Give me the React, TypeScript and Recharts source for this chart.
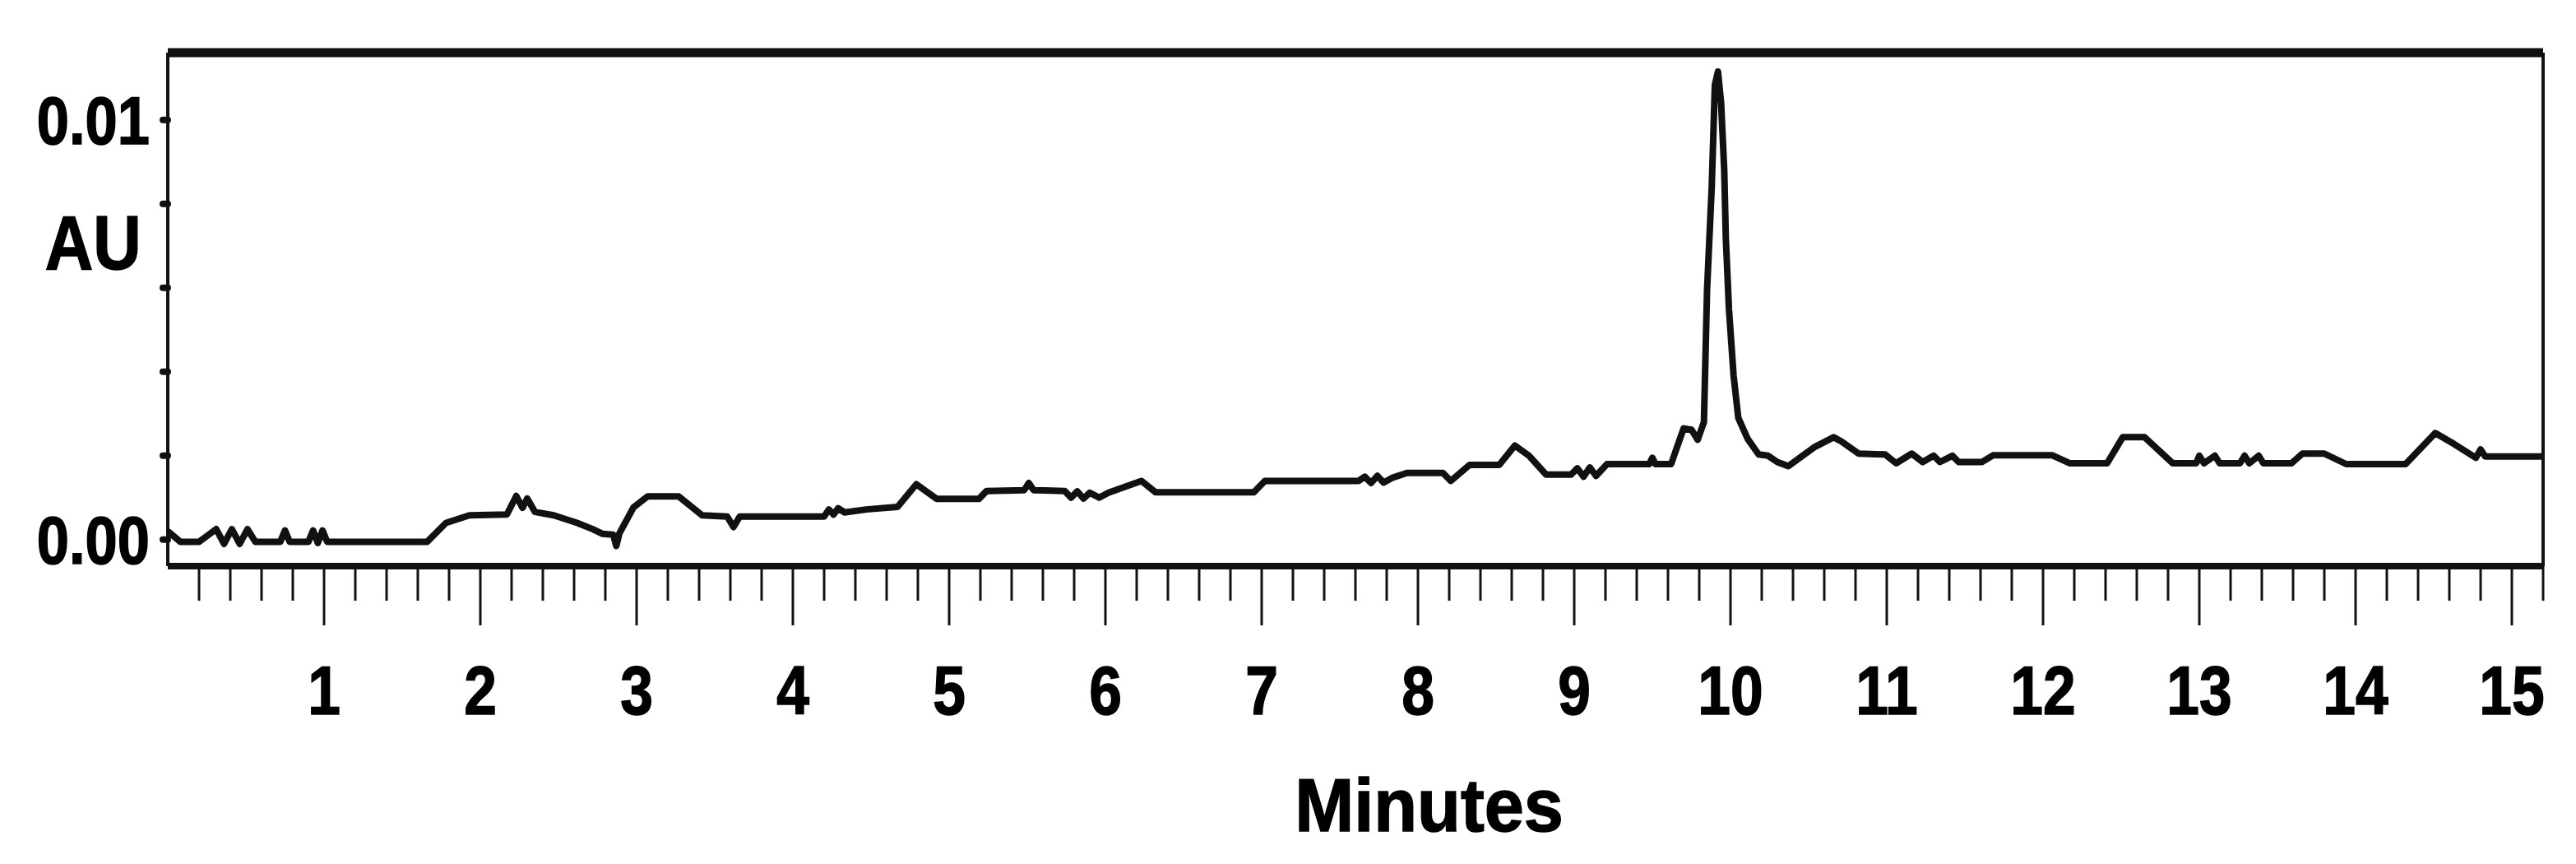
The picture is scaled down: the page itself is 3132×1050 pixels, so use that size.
import { LineChart, Line, XAxis, YAxis, ReferenceLine } from 'recharts'

// retention time (minutes) and detector response (AU)
const TIME_MIN = [
    0.0, 0.08, 0.2, 0.31, 0.36, 0.41, 0.46, 0.51, 0.56, 0.72, 0.75, 0.78, 0.9, 0.93, 0.96, 0.99, 1.02,
    1.66, 1.78, 1.93, 2.17, 2.23, 2.27, 2.3, 2.35, 2.47, 2.62, 2.72, 2.78, 2.85, 2.87, 2.89, 2.98, 3.07,
    3.27, 3.42, 3.58, 3.62, 3.66, 4.2, 4.23, 4.26, 4.29, 4.33, 4.47, 4.67, 4.79, 4.92, 5.19, 5.24, 5.48,
    5.51, 5.54, 5.74, 5.78, 5.82, 5.86, 5.9, 5.96, 6.02, 6.23, 6.32, 6.95, 7.02, 7.62, 7.66, 7.7, 7.74,
    7.78, 7.84, 7.93, 8.16, 8.21, 8.33, 8.52, 8.62, 8.71, 8.82, 8.98, 9.02, 9.06, 9.1, 9.14, 9.21, 9.48,
    9.5, 9.52, 9.62, 9.7, 9.75, 9.79, 9.83, 9.85, 9.88, 9.9, 9.92, 9.94, 9.96, 9.97, 9.99, 10.02, 10.05,
    10.11, 10.18, 10.24, 10.3, 10.37, 10.54, 10.66, 10.71, 10.82, 10.99, 11.06, 11.16, 11.23, 11.3, 11.34,
    11.42, 11.46, 11.61, 11.68, 12.06, 12.17, 12.41, 12.51, 12.65, 12.83, 12.98, 13.0, 13.03, 13.1, 13.13,
    13.26, 13.29, 13.32, 13.38, 13.41, 13.59, 13.66, 13.8, 13.94, 14.32, 14.51, 14.63, 14.77, 14.8, 14.83,
    15.2,
]

const ABSORBANCE_AU = [
    0.0002, -0.00005, -0.00005, 0.00025, -0.0001, 0.00025, -0.0001, 0.00025, -0.00005, -0.00005, 0.00022,
    -0.00005, -0.00005, 0.00022, -0.00008, 0.00022, -0.00005,
    -0.00005, 0.0004, 0.00058, 0.0006, 0.00104, 0.00076, 0.00098, 0.00066, 0.00058, 0.0004, 0.00025,
    0.00014, 0.00012, -0.00015, 0.00015, 0.00077, 0.00103,
    0.00103, 0.00058, 0.00055, 0.0003, 0.00055, 0.00055, 0.00072, 0.0006, 0.00075, 0.00065, 0.00072,
    0.00078, 0.00132, 0.00097, 0.00097, 0.00116, 0.00118,
    0.00135, 0.00118, 0.00116, 0.001, 0.00115, 0.00098, 0.00112, 0.001, 0.00112, 0.0014, 0.00113, 0.00113,
    0.0014, 0.0014, 0.0015, 0.00135, 0.00152,
    0.00136, 0.00148, 0.00159, 0.00159, 0.0014, 0.00178, 0.00178, 0.00224, 0.002, 0.00155, 0.00155, 0.0017,
    0.0015, 0.00172, 0.00152, 0.0018, 0.0018,
    0.00195, 0.0018, 0.0018, 0.00265, 0.00262, 0.00238, 0.0028, 0.00595, 0.0084, 0.01083, 0.01115, 0.0104,
    0.0088, 0.0072, 0.0055, 0.0039, 0.0029,
    0.0024, 0.00203, 0.002, 0.00185, 0.00175, 0.00221, 0.00244, 0.00234, 0.00205, 0.00203, 0.00182,
    0.00205, 0.00185, 0.002, 0.00185,
    0.002, 0.00185, 0.00185, 0.00201, 0.00201, 0.00182, 0.00182, 0.00244, 0.00244, 0.00182, 0.00182, 0.002,
    0.00182, 0.002, 0.00182,
    0.00182, 0.002, 0.00182, 0.002, 0.00182, 0.00182, 0.00205, 0.00205, 0.0018, 0.0018, 0.00254, 0.00228,
    0.00195, 0.00215, 0.00198,
    0.00198,
]

// axis ticks
const X_MAJOR_TICKS = [1, 2, 3, 4, 5, 6, 7, 8, 9, 10, 11, 12, 13, 14, 15]
const X_END = 15.2
const Y_DOMAIN = [-0.00063, 0.0116]
const Y_TICKS = [0, 0.002, 0.004, 0.006, 0.008, 0.01]
const Y_TICK_LABELS: Record<string, string> = { '0': '0.00', '0.01': '0.01' }

// minor ticks every 0.2 min
const X_ALL_TICKS = Array.from({ length: 76 }, (_, i) => Math.round((i + 1) * 2) / 10)

const data = TIME_MIN.map((t, i) => ({ t, au: ABSORBANCE_AU[i] }))

const FONT = '"Liberation Sans", Arial, sans-serif'
const INK = '#111'

// the original lettering is a condensed bold sans
function Condensed({ x, y, size, anchor = 'middle', sx = 0.86, children }: any) {
    return (
        <text transform={`translate(${x},${y}) scale(${sx},1)`} textAnchor={anchor}
            fontFamily={FONT} fontWeight="bold" fontSize={size} fill="#000"
            stroke="#000" strokeWidth={1.5}>
            {children}
        </text>
    )
}

function MinuteTick(props: any) {
    const { x, y, payload } = props
    const v = payload.value
    const major = Math.abs(v - Math.round(v)) < 1e-6 && X_MAJOR_TICKS.includes(Math.round(v))
    return (
        <g>
            <line x1={x} x2={x} y1={y} y2={y + (major ? 72 : 42)} stroke={INK} strokeWidth={3} />
            {major && <Condensed x={x} y={y + 180} size={84} sx={0.85}>{v}</Condensed>}
        </g>
    )
}

function AuTick(props: any) {
    const { x, y, payload } = props
    const label = Y_TICK_LABELS[String(payload.value)]
    if (!label) return null
    return <Condensed x={x} y={y + 29} size={81} anchor="end" sx={0.87}>{label}</Condensed>
}

export default function App() {
    return (
        <div style={{ position: 'absolute', left: 0, top: 0, background: '#fff' }}>
            <LineChart width={3132} height={1050} data={data}
                margin={{ top: 64, right: 40, bottom: 162, left: 0 }}>
                <XAxis xAxisId="main" dataKey="t" type="number" domain={[0, X_END]} allowDataOverflow
                    ticks={X_ALL_TICKS} interval={0} tickSize={0} tickMargin={0} tickLine={false}
                    height={200} axisLine={{ stroke: INK, strokeWidth: 8 }} tick={<MinuteTick />}
                    label={{
                        content: (p: any) => {
                            const vb = p.viewBox
                            return (
                                <Condensed x={vb.x + vb.width * 0.531} y={vb.y + 322} size={91} sx={0.95}>
                                    Minutes
                                </Condensed>
                            )
                        },
                    }}
                />
                <YAxis yAxisId="left" type="number" domain={Y_DOMAIN} allowDataOverflow
                    ticks={Y_TICKS} interval={0} width={204} tickSize={6} tickMargin={16}
                    tickLine={{ stroke: INK, strokeWidth: 8, strokeLinecap: 'round' }}
                    axisLine={{ stroke: INK, strokeWidth: 4 }}
                    tick={<AuTick />}
                    label={{
                        content: (p: any) => {
                            const vb = p.viewBox
                            return (
                                <Condensed x={vb.x + vb.width * 0.555} y={vb.y + 263} size={93} sx={0.87}>
                                    AU
                                </Condensed>
                            )
                        },
                    }}
                />
                {/* frame: heavy top rule and thin right edge */}
                <ReferenceLine xAxisId="main" yAxisId="left" y={Y_DOMAIN[1]} stroke={INK} strokeWidth={11} />
                <ReferenceLine xAxisId="main" yAxisId="left" x={X_END} stroke={INK} strokeWidth={4} />
                <Line xAxisId="main" yAxisId="left" type="linear" dataKey="au" stroke={INK} strokeWidth={8}
                    strokeLinejoin="round" dot={false} isAnimationActive={false} />
            </LineChart>
        </div>
    )
}
